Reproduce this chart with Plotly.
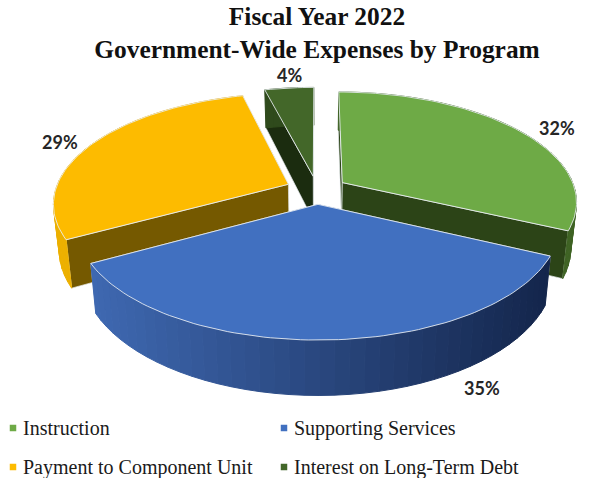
import math
import plotly.graph_objects as go

# Expense shares by program, in percent
programs = ["Instruction", "Supporting Services", "Payment to Component Unit", "Interest on Long-Term Debt"]
shares = [32, 35, 29, 4]
label_positions = [(557, 128), (482, 388), (60, 142), (289, 75)]
legend_positions = [(13, 428), (284, 428), (13, 467), (284, 467)]

# Face colours for each slice
top_colors = ["#6EAA46", "#4170C0", "#FDBB00", "#436729"]
wall_colors = ["#2C4417", "#1B3058", "#755900", "#1B2C0F"]
rim_left_colors = ["#3F6324", "#3F69B2", "#ECB000", "#2F4A1C"]
rim_right_colors = ["#3F6324", "#14264C", "#D8A000", "#2F4A1C"]
edge_color = "rgba(235,240,245,0.85)"

# Projection of the tilted disc onto the page
CX, CY = 317, 190
RADIUS_X, RADIUS_Y = 233, 107.9
PERSPECTIVE = 0.166
DEPTH = 45
DEPTH_TAPER = 0.978
EXPLODE = [0.13, 0.13, 0.135, 0.13]


def project(u, v):
    d = 1 + PERSPECTIVE * v
    return CX + RADIUS_X * u / d, CY - RADIUS_Y * v / d


def project_bottom(u, v):
    x, y = project(u, v)
    return CX + (x - CX) * DEPTH_TAPER, y + DEPTH / (1 + PERSPECTIVE * v)


def mix(a, b, t):
    ca = [int(a[i:i + 2], 16) for i in (1, 3, 5)]
    cb = [int(b[i:i + 2], 16) for i in (1, 3, 5)]
    return "rgb({},{},{})".format(*[round(p + (q - p) * t) for p, q in zip(ca, cb)])


def polygon(points, fill, line=None, width=1):
    xs, ys = zip(*points)
    return go.Scatter(
        x=list(xs) + [xs[0]], y=list(ys) + [ys[0]], mode="lines", fill="toself",
        fillcolor=fill, line=dict(color=line or fill, width=width),
        hoverinfo="skip", showlegend=False,
    )


# Angular span of every slice, clockwise from twelve o'clock
total = sum(shares)
spans = []
running = 0
for s in shares:
    spans.append((running / total * 2 * math.pi, (running + s) / total * 2 * math.pi))
    running += s

fig = go.Figure()

# Painted back to front
for i in [3, 2, 0, 1]:
    a0, a1 = spans[i]
    mid = (a0 + a1) / 2
    ou, ov = EXPLODE[i] * math.sin(mid), EXPLODE[i] * math.cos(mid)
    rim_at = lambda a: (ou + math.sin(a), ov + math.cos(a))

    # Cut faces along both straight edges; the one nearer the viewer goes last
    edges = [a0, a1]
    edges.sort(key=lambda a: -rim_at(a)[1])
    for a in edges:
        p = rim_at(a)
        fig.add_trace(polygon(
            [project(ou, ov), project(*p), project_bottom(*p), project_bottom(ou, ov)],
            wall_colors[i], edge_color, 0.8,
        ))

    # Rim, shaded left to right in narrow strips
    n = max(6, int((a1 - a0) / math.radians(3)))
    for k in range(n):
        b0 = a0 + (a1 - a0) * k / n
        b1 = a0 + (a1 - a0) * (k + 1) / n
        p0, p1 = rim_at(b0), rim_at(b1)
        xm = project((p0[0] + p1[0]) / 2, (p0[1] + p1[1]) / 2)[0]
        t = min(1, max(0, (xm - (CX - 230)) / 460))
        shade = mix(rim_left_colors[i], rim_right_colors[i], t)
        fig.add_trace(polygon([project(*p0), project(*p1), project_bottom(*p1), project_bottom(*p0)], shade))

    # Top surface
    steps = max(8, int((a1 - a0) / math.radians(1.5)))
    outline = [project(ou, ov)]
    outline += [project(*rim_at(a0 + (a1 - a0) * k / steps)) for k in range(steps + 1)]
    fig.add_trace(polygon(outline, top_colors[i], edge_color, 1))

# Percentage labels
for share, (x, y) in zip(shares, label_positions):
    fig.add_annotation(x=x, y=y, text=f"{share}%", showarrow=False,
                       font=dict(family="Lato", size=18, color="#262626", weight="bold"))

# Key below the chart
for name, color, (x, y) in zip(programs, top_colors, legend_positions):
    fig.add_trace(go.Scatter(x=[x], y=[y], mode="markers", name=name, hoverinfo="skip", showlegend=False,
                             marker=dict(symbol="square", size=6.5, color=color)))
    fig.add_annotation(x=x + 8, y=y, text=name, xanchor="left", showarrow=False,
                       font=dict(family="Liberation Serif", size=20, color="#1A1A1A"))

fig.update_layout(
    width=602, height=478, margin=dict(l=0, r=0, t=0, b=0),
    paper_bgcolor="white", plot_bgcolor="white", showlegend=False,
    title=dict(
        text="<b>Fiscal Year 2022<br>Government-Wide Expenses by Program</b>",
        x=317 / 602, xanchor="center", y=0.948, yanchor="top",
        font=dict(family="Liberation Serif", size=25.4, color="#111111"),
    ),
    xaxis=dict(range=[0, 602], visible=False, fixedrange=True),
    yaxis=dict(range=[478, 0], visible=False, fixedrange=True),
)

fig.write_html("out.html")
